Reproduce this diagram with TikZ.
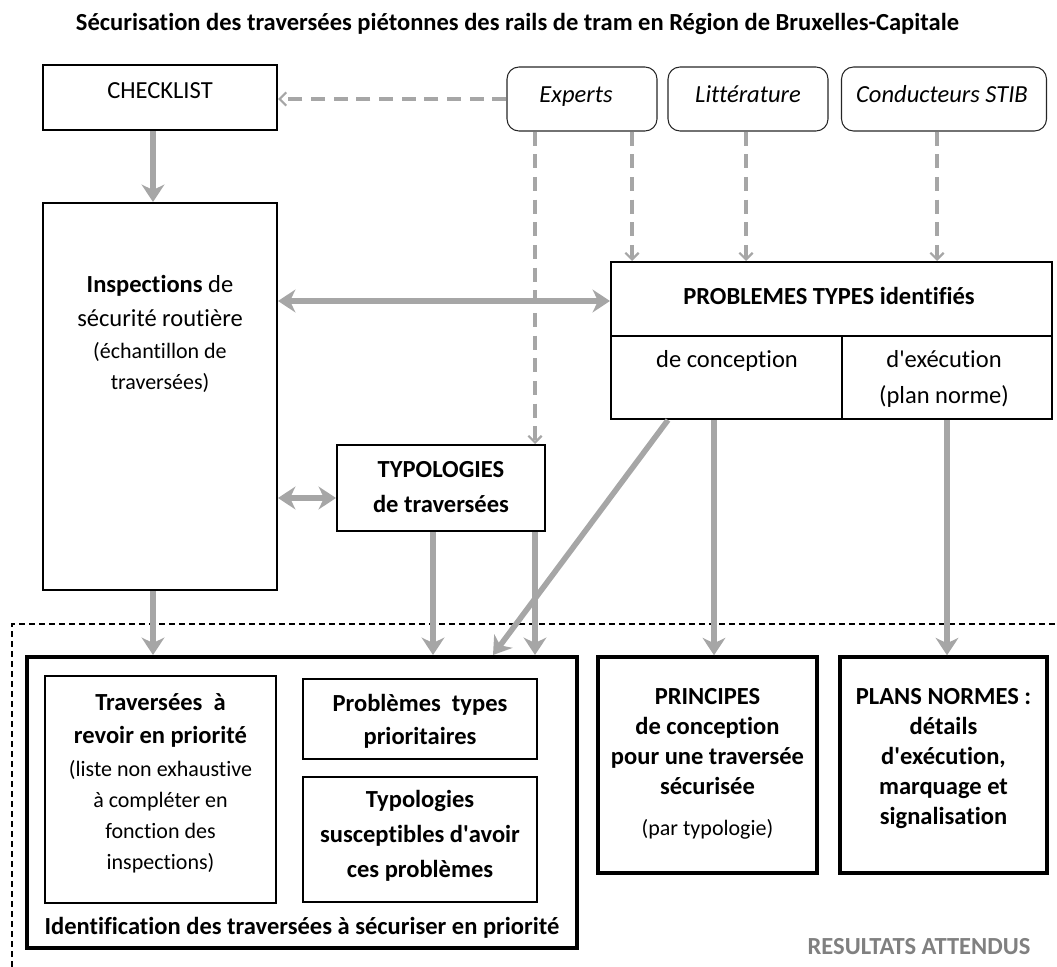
\documentclass[tikz,border=0pt]{standalone}
\usepackage{fontspec}
\setmainfont{Carlito}[Ligatures={TeX,NoCommon}]
\usetikzlibrary{arrows.meta,calc}
\definecolor{arrowgray}{HTML}{A6A6A6}
\definecolor{labelgray}{HTML}{808080}
\newcommand\fbig{\fontsize{18.4}{25.5}\selectfont}
\newcommand\fsml{\fontsize{16.5}{23.25}\selectfont}
\newcommand\apo{\textquotesingle}
\tikzset{
  sz/.style 2 args={minimum width=#1*0.75pt, minimum height=#2*0.75pt},
  box/.style={draw=black, line width=1.5pt, inner sep=0pt},
  thickbox/.style={draw=black, line width=2.6pt, inner sep=0pt},
  srcbox/.style={draw=black!85, line width=0.8pt, rounded corners=9pt, inner sep=0pt},
  txt/.style={inner sep=0pt, anchor=base, align=center, font=\fbig},
  stxt/.style={inner sep=0pt, anchor=base, align=center, font=\fsml},
  flow/.style={draw=arrowgray, line width=4.2pt, -{Stealth[length=13pt,width=17pt,inset=4pt]}},
  flowtwo/.style={draw=arrowgray, line width=4.2pt, {Stealth[length=13pt,width=17pt,inset=4pt]}-{Stealth[length=13pt,width=17pt,inset=4pt]}},
  feed/.style={draw=arrowgray, line width=2.6pt, dash pattern=on 10.5pt off 6.5pt, -{Straight Barb[length=5pt,width=10pt,line width=1.6pt]}},
  outline/.style={draw=black, line width=1.1pt, dash pattern=on 4.5pt off 3pt},
}
\begin{document}
\begin{tikzpicture}[x=0.75pt, y=-0.75pt]
\useasboundingbox (0,0) rectangle (1057,967);

% title
\node[txt, font=\fbig\bfseries] (title) at (517.5,31) {Sécurisation des traversées piétonnes des rails de tram en Région de Bruxelles-Capitale};

% top row
\node[box, sz={234}{65}] (chk) at (160,97.5) {};
\node[txt] (chkt) at (160,98) {CHECKLIST};
\node[srcbox, sz={150}{64}] (exp) at (582,99) {};
\node[txt, font=\fbig\itshape] (expt) at (576,102) {Experts};
\node[srcbox, sz={160}{64}] (lit) at (748,99) {};
\node[txt, font=\fbig\itshape] (litt) at (748,102) {Littérature};
\node[srcbox, sz={205}{64}] (cond) at (944,99) {};
\node[txt, font=\fbig\itshape] (condt) at (942,102) {Conducteurs STIB};

% inspections
\node[box, sz={234}{387}] (ins) at (160,396.5) {};
\node[txt] (inst) at (160,326) {\textbf{Inspections} de\\sécurité routière};
\node[stxt] (inss) at (160,389) {(échantillon de\\traversées)};

% problemes types
\node[box, sz={441}{157}] (prob) at (831.5,340.5) {};
\draw[line width=1.5pt] (prob.west |- 0,336) -- (prob.east |- 0,336);
\draw[line width=1.5pt] (842,336) -- (842,0 |- prob.south);
\node[txt, font=\fbig\bfseries] (probt) at (829,304) {PROBLEMES TYPES identifiés};
\node[txt] (probc) at (727,367) {de conception};
\node[txt, font=\fontsize{18.4}{27}\selectfont] (probe) at (944,403) {d\apo exécution\\(plan norme)};

% typologies
\node[box, sz={208}{86}] (typ) at (441,488) {};
\node[txt, font=\fontsize{18.4}{26.25}\selectfont\bfseries] (typt) at (441,512) {TYPOLOGIES\\de traversées};

% results zone
\draw[outline] (12,967) -- (12,624) -- (1057,624);

\node[thickbox, line width=3pt, sz={550}{291}] (big) at (302,802.5) {};
\node[box, sz={231}{227}] (trav) at (160.5,789.5) {};
\node[txt, font=\fontsize{18.4}{24.75}\selectfont\bfseries] (travt) at (160.5,743) {Traversées\ \ à\\revoir en priorité};
\node[stxt] (travs) at (160.5,869) {(liste non exhaustive\\à compléter en\\fonction des\\inspections)};
\node[box, sz={234}{80}] (pbt) at (420,719) {};
\node[txt, font=\fontsize{18.4}{24.75}\selectfont\bfseries] (pbtt) at (420,744) {Problèmes\ \ types\\prioritaires};
\node[box, sz={234}{125}] (tys) at (420,839.5) {};
\node[txt, font=\fontsize{18.4}{25.9}\selectfont\bfseries] (tyst) at (420,877) {Typologies\\susceptibles d\apo avoir\\ces problèmes};
\node[txt, font=\fbig\bfseries] (bigt) at (302,934) {Identification des traversées à sécuriser en priorité};

\node[thickbox, sz={219}{216}] (prin) at (707.5,765) {};
\node[txt, font=\fontsize{18.4}{22.5}\selectfont\bfseries] (print) at (707.5,794) {PRINCIPES\\de conception\\pour une traversée\\sécurisée};
\node[stxt] (prins) at (707.5,835) {(par typologie)};
\node[thickbox, sz={207}{216}] (plans) at (943.5,765) {};
\node[txt, font=\fontsize{18.4}{22.5}\selectfont\bfseries] (planst) at (943.5,824) {PLANS NORMES :\\détails\\d\apo exécution,\\marquage et\\signalisation};

\node[txt, font=\fbig\bfseries, text=labelgray] (res) at (919,954) {RESULTATS ATTENDUS};

% connectors
\draw[flow] (chk.south -| 153,0) -- (ins.north -| 153,0);
\draw[feed] (exp.west) -- (chk.east |- exp.west);
\draw[feed] (exp.south -| 535,0) -- (typ.north -| 535,0);
\draw[feed] (exp.south -| 632,0) -- (prob.north -| 632,0);
\draw[feed] (lit.south -| 746,0) -- (prob.north -| 746,0);
\draw[feed] (cond.south -| 937,0) -- (prob.north -| 937,0);
\draw[flowtwo] (ins.east |- 0,301) -- (prob.west |- 0,301);
\draw[flowtwo] (ins.east |- 0,498) -- (typ.west |- 0,498);
\draw[flow] (ins.south -| 153,0) -- (big.north -| 153,0);
\draw[flow] (typ.south -| 433,0) -- (big.north -| 433,0);
\draw[flow] (typ.south -| 535,0) -- (big.north -| 535,0);
\draw[flow] (prob.south -| 668,0) -- (big.north -| 493,0);
\draw[flow] (prob.south -| 714,0) -- (prin.north -| 714,0);
\draw[flow] (prob.south -| 947,0) -- (plans.north -| 947,0);
\end{tikzpicture}
\end{document}
